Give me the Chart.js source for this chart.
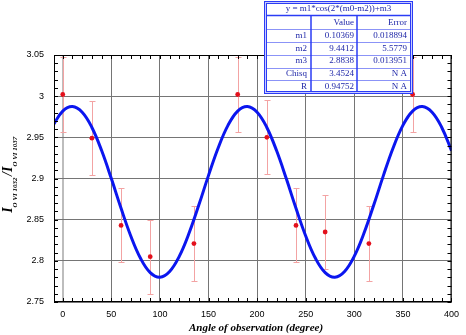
<!DOCTYPE html>
<html>
<head>
<meta charset="utf-8">
<script src="https://cdn.jsdelivr.net/npm/chart.js@4.4.1/dist/chart.umd.min.js"></script>
<style>
  html, body { margin: 0; padding: 0; background: #fff; }
  canvas { display: block; }
</style>
</head>
<body>
<canvas id="fitChart" width="466" height="335"></canvas>
<script>
// measured points (angle in degrees, intensity ratio, error)
const ANGLES = [0, 30, 60, 90, 135, 180, 210, 240, 270, 315, 360];
const RATIOS = [3.002, 2.949, 2.843, 2.805, 2.821, 3.002, 2.950, 2.843, 2.835, 2.821, 3.002];
const ERRORS = [0.045, 0.045, 0.045, 0.045, 0.045, 0.045, 0.045, 0.045, 0.045, 0.045, 0.045];

// fitted curve, every 10 degrees
const FIT_ANGLES = [-10, 0, 10, 20, 30, 40, 50, 60, 70, 80, 90, 100, 110, 120, 130, 140, 150, 160, 170,
  180, 190, 200, 210, 220, 230, 240, 250, 260, 270, 280, 290, 300, 310, 320, 330, 340, 350, 360, 370, 380, 390, 400];
const FIT_VALUES = [2.9645, 2.9819, 2.9875, 2.9805, 2.9620, 2.9339, 2.8999, 2.8638, 2.8302, 2.8031, 2.7857,
  2.7801, 2.7871, 2.8057, 2.8337, 2.8677, 2.9038, 2.9374, 2.9645,
  2.9819, 2.9875, 2.9805, 2.9620, 2.9339, 2.8999, 2.8638, 2.8302, 2.8031, 2.7857, 2.7801, 2.7871,
  2.8057, 2.8337, 2.8677, 2.9038, 2.9374, 2.9645, 2.9819, 2.9875, 2.9805, 2.9620, 2.9339];

const X_TICKS = [0, 50, 100, 150, 200, 250, 300, 350, 400];
const Y_TICKS = [2.75, 2.8, 2.85, 2.9, 2.95, 3, 3.05];

// fit result table
const FIT_TITLE = 'y = m1*cos(2*(m0-m2))+m3';
const PARAM_NAMES = ['m1', 'm2', 'm3', 'Chisq', 'R'];
const PARAM_VALUES = ['0.10369', '9.4412', '2.8838', '3.4524', '0.94752'];
const PARAM_ERRORS = ['0.018894', '5.5779', '0.013951', 'N A', 'N A'];

const SERIF = '"Liberation Serif", "DejaVu Serif", serif';
const SANS = '"Liberation Sans", Arial, sans-serif';

const errorBars = {
  id: 'errorBars',
  beforeDatasetsDraw(chart) {
    const { ctx, chartArea, scales } = chart;
    ctx.save();
    ctx.beginPath();
    ctx.rect(chartArea.left, chartArea.top, chartArea.right - chartArea.left, chartArea.bottom - chartArea.top);
    ctx.clip();
    ctx.strokeStyle = '#f3a3a3';
    ctx.lineWidth = 1;
    ANGLES.forEach((a, i) => {
      const x = Math.round(scales.x.getPixelForValue(a)) + 0.5;
      const top = Math.round(scales.y.getPixelForValue(RATIOS[i] + ERRORS[i])) + 0.5;
      const bot = Math.round(scales.y.getPixelForValue(RATIOS[i] - ERRORS[i])) + 0.5;
      ctx.beginPath();
      ctx.moveTo(x, top); ctx.lineTo(x, bot);
      ctx.moveTo(x - 3, top); ctx.lineTo(x + 3, top);
      ctx.moveTo(x - 3, bot); ctx.lineTo(x + 3, bot);
      ctx.stroke();
    });
    ctx.restore();
  }
};

function drawFrame(chart) {
  const { ctx, chartArea, scales } = chart;
  const { left, right, top, bottom } = chartArea;
  ctx.save();
  ctx.strokeStyle = '#000';
  ctx.lineWidth = 1;
  ctx.beginPath();
  // minor ticks on x
  for (let a = 0; a <= 400; a += 10) {
    const x = Math.round(scales.x.getPixelForValue(a)) + 0.5;
    ctx.moveTo(x, bottom); ctx.lineTo(x, bottom - 4);
    ctx.moveTo(x, top); ctx.lineTo(x, top + 4);
  }
  // minor ticks on y
  for (let k = 0; k <= 30; k++) {
    const y = Math.round(scales.y.getPixelForValue(2.75 + k * 0.01)) + 0.5;
    ctx.moveTo(left, y); ctx.lineTo(left + 4, y);
    ctx.moveTo(right, y); ctx.lineTo(right - 4, y);
  }
  ctx.stroke();
  ctx.strokeRect(left + 0.5, top + 0.5, right - left - 1, bottom - top - 1);
  ctx.restore();
}

function drawTable(ctx) {
  const x0 = 264, x1 = 413, y0 = 1, y1 = 94;
  const rows = [1, 15.5, 29, 42, 54.5, 67.5, 80, 94];
  const colA = 311, colB = 357;
  ctx.save();
  ctx.fillStyle = '#fff';
  ctx.fillRect(x0, y0, x1 - x0, y1 - y0);
  // double outer border
  ctx.strokeStyle = '#c9ccff';
  ctx.lineWidth = 3;
  ctx.strokeRect(x0 + 1.5, y0 + 1.5, x1 - x0 - 3, y1 - y0 - 3);
  ctx.strokeStyle = '#2b3cf5';
  ctx.lineWidth = 1;
  ctx.strokeRect(x0 + 0.5, y0 + 0.5, x1 - x0 - 1, y1 - y0 - 1);
  ctx.strokeRect(x0 + 2.5, y0 + 2.5, x1 - x0 - 5, y1 - y0 - 5);
  // row lines
  ctx.beginPath();
  ctx.lineWidth = 1.5;
  ctx.moveTo(x0 + 3, rows[1]); ctx.lineTo(x1 - 3, rows[1]);
  ctx.stroke();
  ctx.strokeStyle = '#8b93f7';
  ctx.lineWidth = 1;
  ctx.beginPath();
  for (let r = 2; r < rows.length - 1; r++) {
    const y = Math.round(rows[r]) + 0.5;
    ctx.moveTo(x0 + 3, y); ctx.lineTo(x1 - 3, y);
  }
  ctx.stroke();
  // column lines
  ctx.strokeStyle = '#2b3cf5';
  ctx.lineWidth = 1.5;
  ctx.beginPath();
  ctx.moveTo(colA, rows[1]); ctx.lineTo(colA, y1 - 3);
  ctx.moveTo(colB, rows[1]); ctx.lineTo(colB, y1 - 3);
  ctx.stroke();
  // text
  ctx.fillStyle = '#1f27a8';
  ctx.font = '9px ' + SERIF;
  ctx.textBaseline = 'middle';
  ctx.textAlign = 'center';
  ctx.fillText(FIT_TITLE, (x0 + x1) / 2, 9);
  ctx.textAlign = 'right';
  ctx.fillText('Value', colB - 3, 22.5);
  ctx.fillText('Error', x1 - 6, 22.5);
  PARAM_NAMES.forEach((name, i) => {
    const y = (rows[i + 2] + rows[i + 3]) / 2;
    ctx.fillText(name, colA - 4, y);
    ctx.fillText(PARAM_VALUES[i], colB - 3, y);
    ctx.fillText(PARAM_ERRORS[i], x1 - 6, y);
  });
  ctx.restore();
}

function drawTitles(ctx) {
  ctx.save();
  ctx.fillStyle = '#000';
  ctx.font = 'bold italic 11px ' + SERIF;
  ctx.textAlign = 'center';
  ctx.textBaseline = 'middle';
  ctx.fillText('Angle of observation (degree)', 256, 328);

  // y title with subscripts, rotated
  const big = 'bold italic 14px ' + SERIF;
  const small = 'bold italic 7px ' + SERIF;
  const parts = [
    { t: 'I', f: big, dy: 0 },
    { t: 'O VI 1032', f: small, dy: 5 },
    { t: '/', f: big, dy: 0 },
    { t: 'I', f: big, dy: 0 },
    { t: 'O VI 1037', f: small, dy: 5 }
  ];
  let total = 0;
  parts.forEach((p) => { ctx.font = p.f; p.w = ctx.measureText(p.t).width + (p.f === small ? 1.5 : 0); total += p.w; });
  ctx.translate(12, 174);
  ctx.rotate(-Math.PI / 2);
  ctx.textAlign = 'left';
  ctx.textBaseline = 'alphabetic';
  let u = -total / 2;
  parts.forEach((p) => {
    ctx.font = p.f;
    ctx.fillText(p.t, u, p.dy);
    u += p.w;
  });
  ctx.restore();
}

const decorations = {
  id: 'decorations',
  afterDraw(chart) {
    drawFrame(chart);
    drawTable(chart.ctx);
    drawTitles(chart.ctx);
  }
};

const fitChart = new Chart(document.getElementById('fitChart'), {
  type: 'scatter',
  data: {
    datasets: [
      {
        label: 'data',
        data: ANGLES.map((a, i) => ({ x: a, y: RATIOS[i] })),
        backgroundColor: '#e3101c',
        borderWidth: 0,
        pointRadius: 2.4,
        pointStyle: 'circle',
        order: 0
      },
      {
        label: 'fit',
        data: FIT_ANGLES.map((a, i) => ({ x: a, y: FIT_VALUES[i] })),
        showLine: true,
        borderColor: '#0b16ef',
        borderWidth: 3,
        pointRadius: 0,
        tension: 0.4,
        order: 1
      }
    ]
  },
  options: {
    responsive: false,
    animation: false,
    devicePixelRatio: 1,
    layout: { padding: { top: 55, right: 9, left: 0, bottom: 0 } },
    plugins: { legend: { display: false }, tooltip: { enabled: false } },
    scales: {
      x: {
        type: 'linear',
        min: -9,
        max: 400,
        afterBuildTicks: (scale) => { scale.ticks = X_TICKS.map((v) => ({ value: v })); },
        afterFit: (scale) => { scale.height = 33; },
        border: { display: false },
        grid: {
          drawTicks: false,
          color: (c) => (c.tick && c.tick.value === 0 ? '#bdbdbd' : '#757575'),
          lineWidth: (c) => (c.tick && c.tick.value === 0 ? 2 : 1)
        },
        ticks: {
          padding: 7,
          color: '#000',
          font: { family: SANS, size: 9 },
          maxRotation: 0,
          autoSkip: false
        }
      },
      y: {
        min: 2.75,
        max: 3.05,
        afterBuildTicks: (scale) => { scale.ticks = Y_TICKS.map((v) => ({ value: v })); },
        afterFit: (scale) => { scale.width = 54; },
        border: { display: false },
        grid: { drawTicks: false, color: '#757575', lineWidth: 1 },
        ticks: {
          padding: 10,
          color: '#000',
          font: { family: SANS, size: 9 },
          autoSkip: false,
          callback: (v) => String(Number(v.toFixed(2)))
        }
      }
    }
  },
  plugins: [errorBars, decorations]
});
</script>
</body>
</html>
